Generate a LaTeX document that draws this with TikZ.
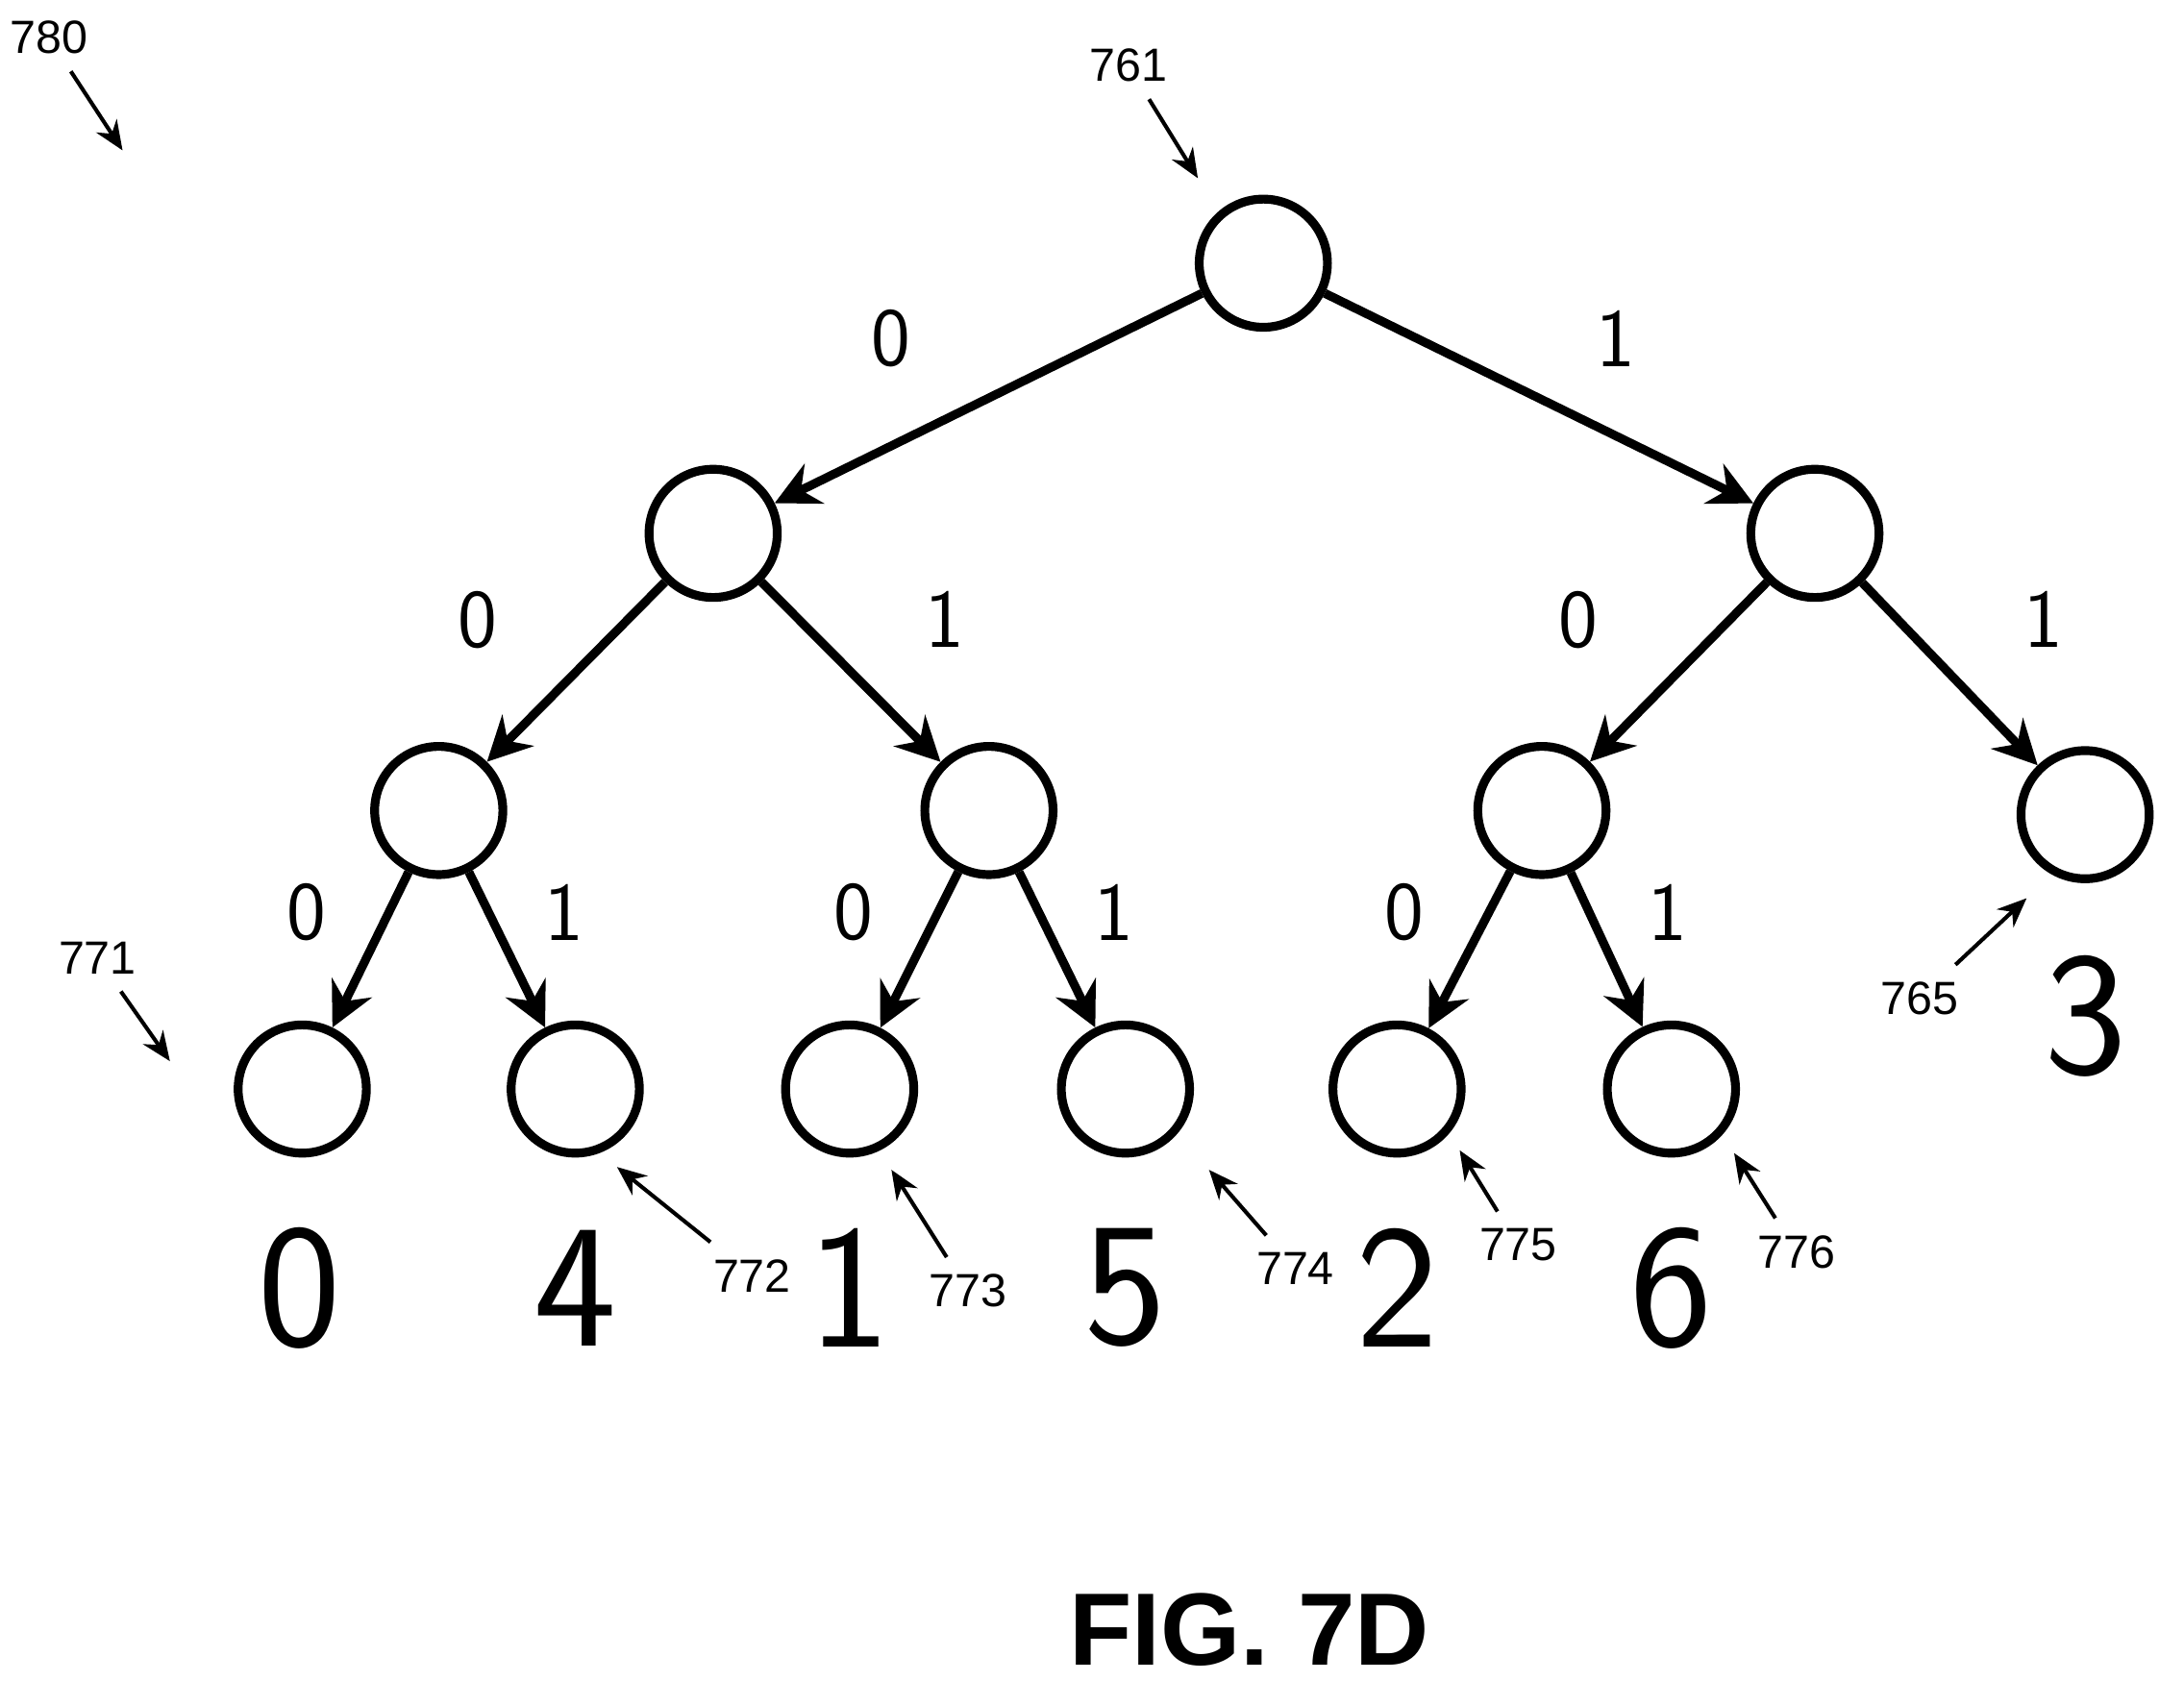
\documentclass[tikz,border=0pt]{standalone}
\usepackage{fontspec}
\setmainfont{Liberation Sans}
\setsansfont{Latin Modern Sans}
\usetikzlibrary{arrows.meta}
\begin{document}
\begin{tikzpicture}[x=0.01cm,y=-0.01cm,
    vert/.style={shape=circle,draw=black,line width=1.8pt,minimum size=0.92cm,inner sep=0pt},
    tree/.style={line width=1.8pt,-{Stealth[length=9pt,width=9pt,inset=3pt]}},
    bit/.style={font=\sffamily\fontsize{17}{17}\selectfont},
    leaf/.style={font=\sffamily\fontsize{36}{36}\selectfont},
    ref/.style={font=\fontsize{9.5}{10}\selectfont},
    refarrow/.style={line width=0.8pt,-{Stealth[length=6pt,width=5pt]}}]
        \useasboundingbox (0,0) rectangle (1568,1207);
        \node[vert] (r) at (907, 189) {};
        \node[vert] (a) at (512, 383) {};
        \node[vert] (b) at (1303, 383) {};
        \node[vert] (aa) at (315, 582) {};
        \node[vert] (ab) at (710, 582) {};
        \node[vert] (ba) at (1107, 582) {};
        \node[vert] (bb) at (1497, 585) {};
        \node[vert] (aaa) at (217, 782) {};
        \node[vert] (aab) at (413, 782) {};
        \node[vert] (aba) at (610, 782) {};
        \node[vert] (abb) at (808, 782) {};
        \node[vert] (baa) at (1003, 782) {};
        \node[vert] (bab) at (1200, 782) {};

	\draw[tree] (r) -- (a);
	\draw[tree] (r) -- (b);
	\draw[tree] (a) -- (aa);
	\draw[tree] (a) -- (ab);
	\draw[tree] (b) -- (ba);
	\draw[tree] (b) -- (bb);
	\draw[tree] (aa) -- (aaa);
	\draw[tree] (aa) -- (aab);
	\draw[tree] (ab) -- (aba);
	\draw[tree] (ab) -- (abb);
	\draw[tree] (ba) -- (baa);
	\draw[tree] (ba) -- (bab);

        \node[bit] (l1) at (640, 243) {0};
        \node[bit] (l2) at (1160, 243) {1};
        \node[bit] (l3) at (343, 445) {0};
        \node[bit] (l4) at (678, 445) {1};
        \node[bit] (l5) at (1133, 445) {0};
        \node[bit] (l6) at (1467, 445) {1};
        \node[bit] (l7) at (220, 655) {0};
        \node[bit] (l8) at (405, 655) {1};
        \node[bit] (l9) at (613, 655) {0};
        \node[bit] (l10) at (800, 655) {1};
        \node[bit] (l11) at (1008, 655) {0};
        \node[bit] (l12) at (1197, 655) {1};

        \node[leaf] (v0) at (215, 925) {0};
        \node[leaf] (v4) at (413, 925) {4};
        \node[leaf] (v1) at (610, 925) {1};
        \node[leaf] (v5) at (808, 925) {5};
        \node[leaf] (v2) at (1003, 925) {2};
        \node[leaf] (v6) at (1200, 925) {6};
        \node[leaf] (v3) at (1497, 730) {3};

        % reference numerals
        \node[ref] (n780) at (35, 27) {780};
        \node[ref] (n761) at (810, 47) {761};
        \node[ref] (n771) at (70, 688) {771};
        \node[ref] (n772) at (540, 916) {772};
        \node[ref] (n773) at (695, 927) {773};
        \node[ref] (n774) at (930, 911) {774};
        \node[ref] (n775) at (1090, 894) {775};
        \node[ref] (n776) at (1290, 899) {776};
        \node[ref] (n765) at (1378, 717) {765};
        \coordinate (t780) at (88, 108);
        \coordinate (t761) at (860, 128);
        \coordinate (t771) at (122, 762);
        \coordinate (t772) at (443, 838);
        \coordinate (t773) at (640, 840);
        \coordinate (t774) at (868, 840);
        \coordinate (t775) at (1048, 826);
        \coordinate (t776) at (1245, 828);
        \coordinate (t765) at (1455, 645);
	\draw[refarrow] (n780) -- (t780);
	\draw[refarrow] (n761) -- (t761);
	\draw[refarrow] (n771) -- (t771);
	\draw[refarrow] (n772) -- (t772);
	\draw[refarrow] (n773) -- (t773);
	\draw[refarrow] (n774) -- (t774);
	\draw[refarrow] (n775) -- (t775);
	\draw[refarrow] (n776) -- (t776);
	\draw[refarrow] (n765) -- (t765);

        \node[font=\bfseries\fontsize{21}{21}\selectfont] (fig) at (897, 1170) {FIG. 7D};
\end{tikzpicture}
\end{document}
